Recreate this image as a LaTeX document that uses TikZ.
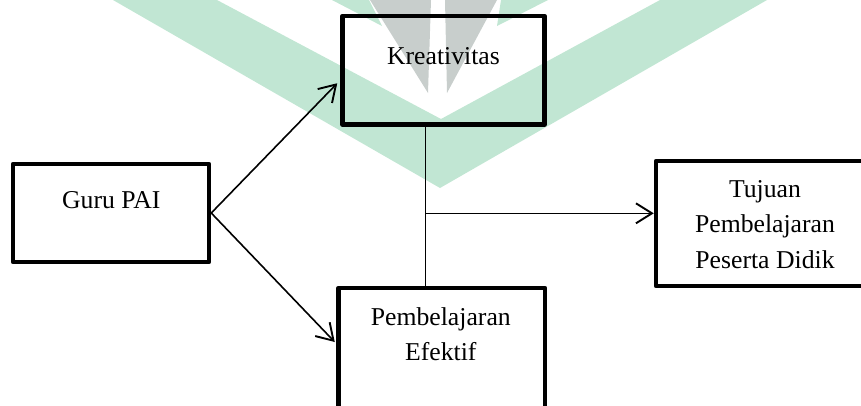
\documentclass[tikz,border=0pt]{standalone}
\usepackage{fontspec}
\setmainfont{Liberation Serif}
\usetikzlibrary{arrows.meta}
\definecolor{wmgreen}{RGB}{193,230,211}
\definecolor{wmgray}{RGB}{200,206,204}
\tikzset{
  boxnode/.style={draw=black, line width=4.5pt, line join=round, inner sep=0pt, rectangle},
  lbl/.style={inner sep=0pt, anchor=base, font=\fontsize{25.7}{36}\selectfont},
  conn/.style={draw=black, line width=1.6pt},
  arr/.style={conn, -{Straight Barb[length=16pt,width=20pt,line width=1.9pt]}},
}
\begin{document}
\begin{tikzpicture}[x=1pt,y=-1pt]
\useasboundingbox (0,0) rectangle (861,405);
\clip (0,0) rectangle (861,405);
% watermark
\fill[wmgreen] (113,0) -- (440,188) -- (767,0) -- (660,0) -- (441,119) -- (217,0) -- cycle;
\fill[wmgreen] (332,0) -- (369,0) -- (382,26) -- cycle;
\fill[wmgreen] (501,0) -- (548,0) -- (497,26) -- cycle;
\fill[wmgray] (370,0) -- (431,0) -- (428,93) -- cycle;
\fill[wmgray] (445,0) -- (497,0) -- (447,93) -- cycle;
% boxes
\node[boxnode, minimum width=202pt, minimum height=108.5pt] (kre) at (443.5,70.25) {};
\node[boxnode, minimum width=196pt, minimum height=98pt] (guru) at (111,213) {};
\node[boxnode, minimum width=206.5pt, minimum height=132pt] (pem) at (441.75,354) {};
\node[boxnode, minimum width=218pt, minimum height=125pt] (tuj) at (765,223.5) {};
% labels
\node[lbl] (kreT) at (443.5,64) {Kreativitas};
\node[lbl] (guruT) at (111.3,208.3) {Guru PAI};
\node[lbl] (pemT1) at (440.8,325) {Pembelajaran};
\node[lbl] (pemT2) at (440.8,360.5) {Efektif};
\node[lbl] (tujT1) at (765,197) {Tujuan};
\node[lbl] (tujT2) at (765,232.5) {Pembelajaran};
\node[lbl] (tujT3) at (765,268) {Peserta Didik};
% connectors
\coordinate (j) at (425.3,213.3);
\draw[arr] (guru.east) -- ([xshift=-3pt,yshift=-13pt]kre.west);
\draw[arr] (guru.east) -- ([xshift=-1.5pt,yshift=12pt]pem.west);
\draw[conn, line width=1.3pt] (j |- kre.south) -- (j |- pem.north);
\draw[arr, line width=1.3pt] (j) -- (j -| tuj.west);
\end{tikzpicture}
\end{document}
